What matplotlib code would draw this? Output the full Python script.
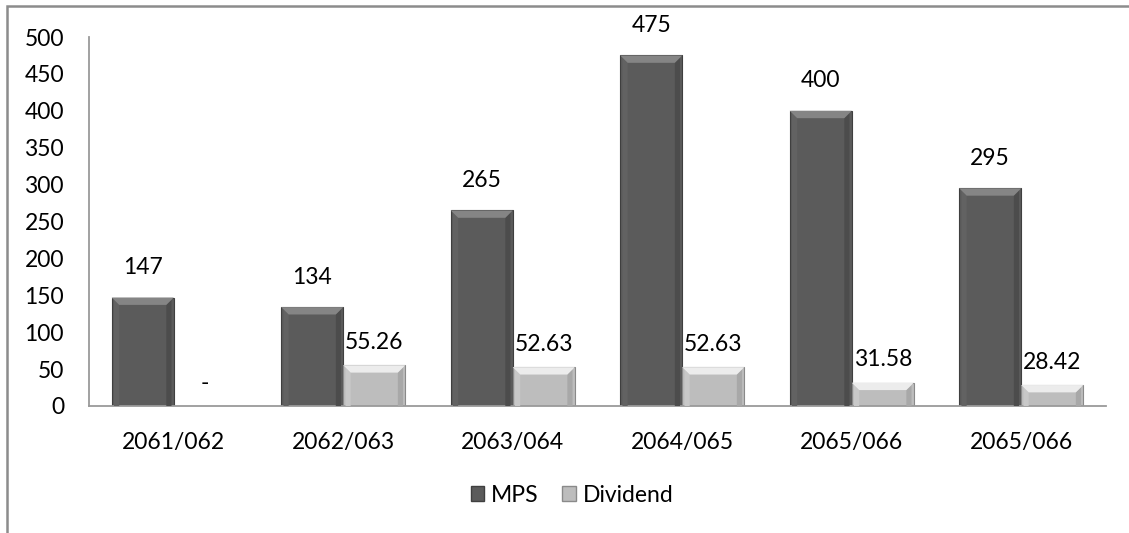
import matplotlib
matplotlib.use('Agg')
import matplotlib.pyplot as plt
import matplotlib.patches as mpatches
import numpy as np

years = ['2061/062', '2062/063', '2063/064', '2064/065', '2065/066', '2065/066']
mps = [147, 134, 265, 475, 400, 295]
dividend = [0, 55.26, 52.63, 52.63, 31.58, 28.42]
mps_labels = ['147', '134', '265', '475', '400', '295']
div_labels = ['-', '55.26', '52.63', '52.63', '31.58', '28.42']

plt.rcParams['font.family'] = ['Lato', 'DejaVu Sans']
plt.rcParams['font.size'] = 16.5

fig = plt.figure(figsize=(11.29, 5.33), dpi=100)
ax = fig.add_axes([89 / 1129, 127 / 533, (1106 - 89) / 1129, (406 - 37) / 533])

# chart border (only left and top visible)
fig.patches.append(mpatches.Rectangle((7 / 1129, -0.1), 1.2, (527 / 533) + 0.1,
                                      transform=fig.transFigure, fill=False,
                                      edgecolor='#8c8c8c', linewidth=1.8))

x = np.arange(len(years))
w = 0.366
dark = '#5b5b5b'
light = '#bdbdbd'
b1 = ax.bar(x - w / 2, mps, w, color=dark, edgecolor='#3f3f3f', linewidth=0.8, zorder=2)
b2 = ax.bar(x + w / 2, dividend, w, color=light, edgecolor='#8a8a8a', linewidth=0.8, zorder=2)


def bevel(bars, hi, side_l, side_r):
    # fake the Excel bevel: light top facet, slight side facets
    for b in bars:
        h = b.get_height()
        if h <= 0:
            continue
        bx, bw = b.get_x(), b.get_width()
        d = min(10.0, h * 0.35)
        inset = bw * 0.12
        ax.add_patch(mpatches.Polygon([(bx + inset * 0.3, 0), (bx + inset * 0.3, h - d * 0.3),
                                       (bx + inset, h - d), (bx + inset, 0)],
                                      closed=True, facecolor=side_l, edgecolor='none', zorder=3))
        ax.add_patch(mpatches.Polygon([(bx + bw - inset * 0.3, 0), (bx + bw - inset * 0.3, h - d * 0.3),
                                       (bx + bw - inset, h - d), (bx + bw - inset, 0)],
                                      closed=True, facecolor=side_r, edgecolor='none', zorder=3))
        ax.add_patch(mpatches.Polygon([(bx, h), (bx + bw, h), (bx + bw - inset, h - d), (bx + inset, h - d)],
                                      closed=True, facecolor=hi, edgecolor='none', zorder=3))


bevel(b1, '#858585', '#626262', '#4c4c4c')
bevel(b2, '#ececec', '#c8c8c8', '#a8a8a8')

for b, t in zip(b1, mps_labels):
    ax.annotate(t, (b.get_x() + b.get_width() / 2, b.get_height()), xytext=(0, 14),
                textcoords='offset points', ha='center', va='bottom')
for b, t in zip(b2, div_labels):
    ax.annotate(t, (b.get_x() + b.get_width() / 2, b.get_height()), xytext=(0, 9),
                textcoords='offset points', ha='center', va='bottom')

ax.set_xlim(-0.5, len(years) - 0.5)
ax.set_ylim(0, 500)
ax.set_yticks(range(0, 501, 50))
ax.set_xticks(x)
ax.set_xticklabels(years)
ax.tick_params(length=0)
ax.tick_params(axis='x', pad=19)
ax.tick_params(axis='y', pad=18)
for s in ['top', 'right']:
    ax.spines[s].set_visible(False)
for s in ['left', 'bottom']:
    ax.spines[s].set_color('#9a9a9a')
    ax.spines[s].set_linewidth(1.3)

ax.legend(handles=[mpatches.Patch(facecolor=dark, edgecolor='#3f3f3f', label='MPS'),
                   mpatches.Patch(facecolor=light, edgecolor='#8a8a8a', label='Dividend')],
          loc='center', bbox_to_anchor=(572 / 1129, 38 / 533), bbox_transform=fig.transFigure,
          ncol=2, frameon=False, handlelength=0.6, handleheight=0.6, handletextpad=0.3,
          columnspacing=1.0)

fig.savefig('out.png', dpi=100)
